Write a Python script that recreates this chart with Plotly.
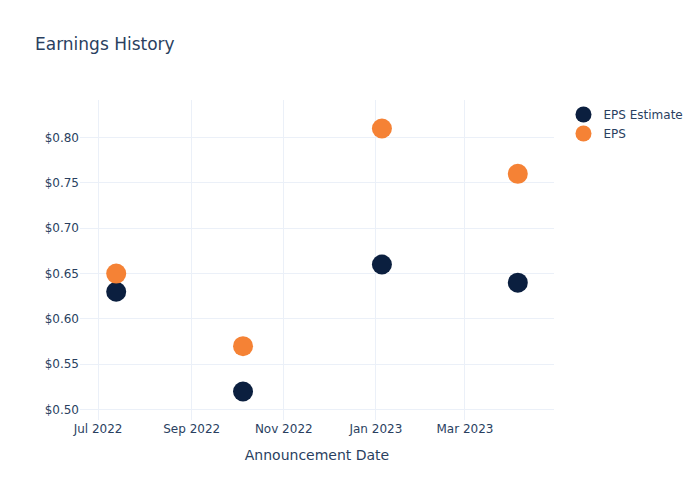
import plotly.graph_objects as go

dates = ["2022-07-13", "2022-10-05", "2023-01-05", "2023-04-05"]
eps_estimate = [0.63, 0.52, 0.66, 0.64]
eps_actual = [0.65, 0.57, 0.81, 0.76]

fig = go.Figure()
fig.add_trace(go.Scatter(x=dates, y=eps_estimate, mode="markers", name="EPS Estimate",
                         marker=dict(color="#0b1f3f", size=20)))
fig.add_trace(go.Scatter(x=dates, y=eps_actual, mode="markers", name="EPS",
                         marker=dict(color="#f58235", size=20)))
fig.update_layout(
    template="plotly_white",
    width=700, height=500,
    font=dict(family="DejaVu Sans"),
    title=dict(text="Earnings History"),
    xaxis=dict(title=dict(text="Announcement Date"), tickformat="%b %Y"),
    yaxis=dict(tickprefix="$", tickformat=".2f"),
)
fig.write_html("out.html")
